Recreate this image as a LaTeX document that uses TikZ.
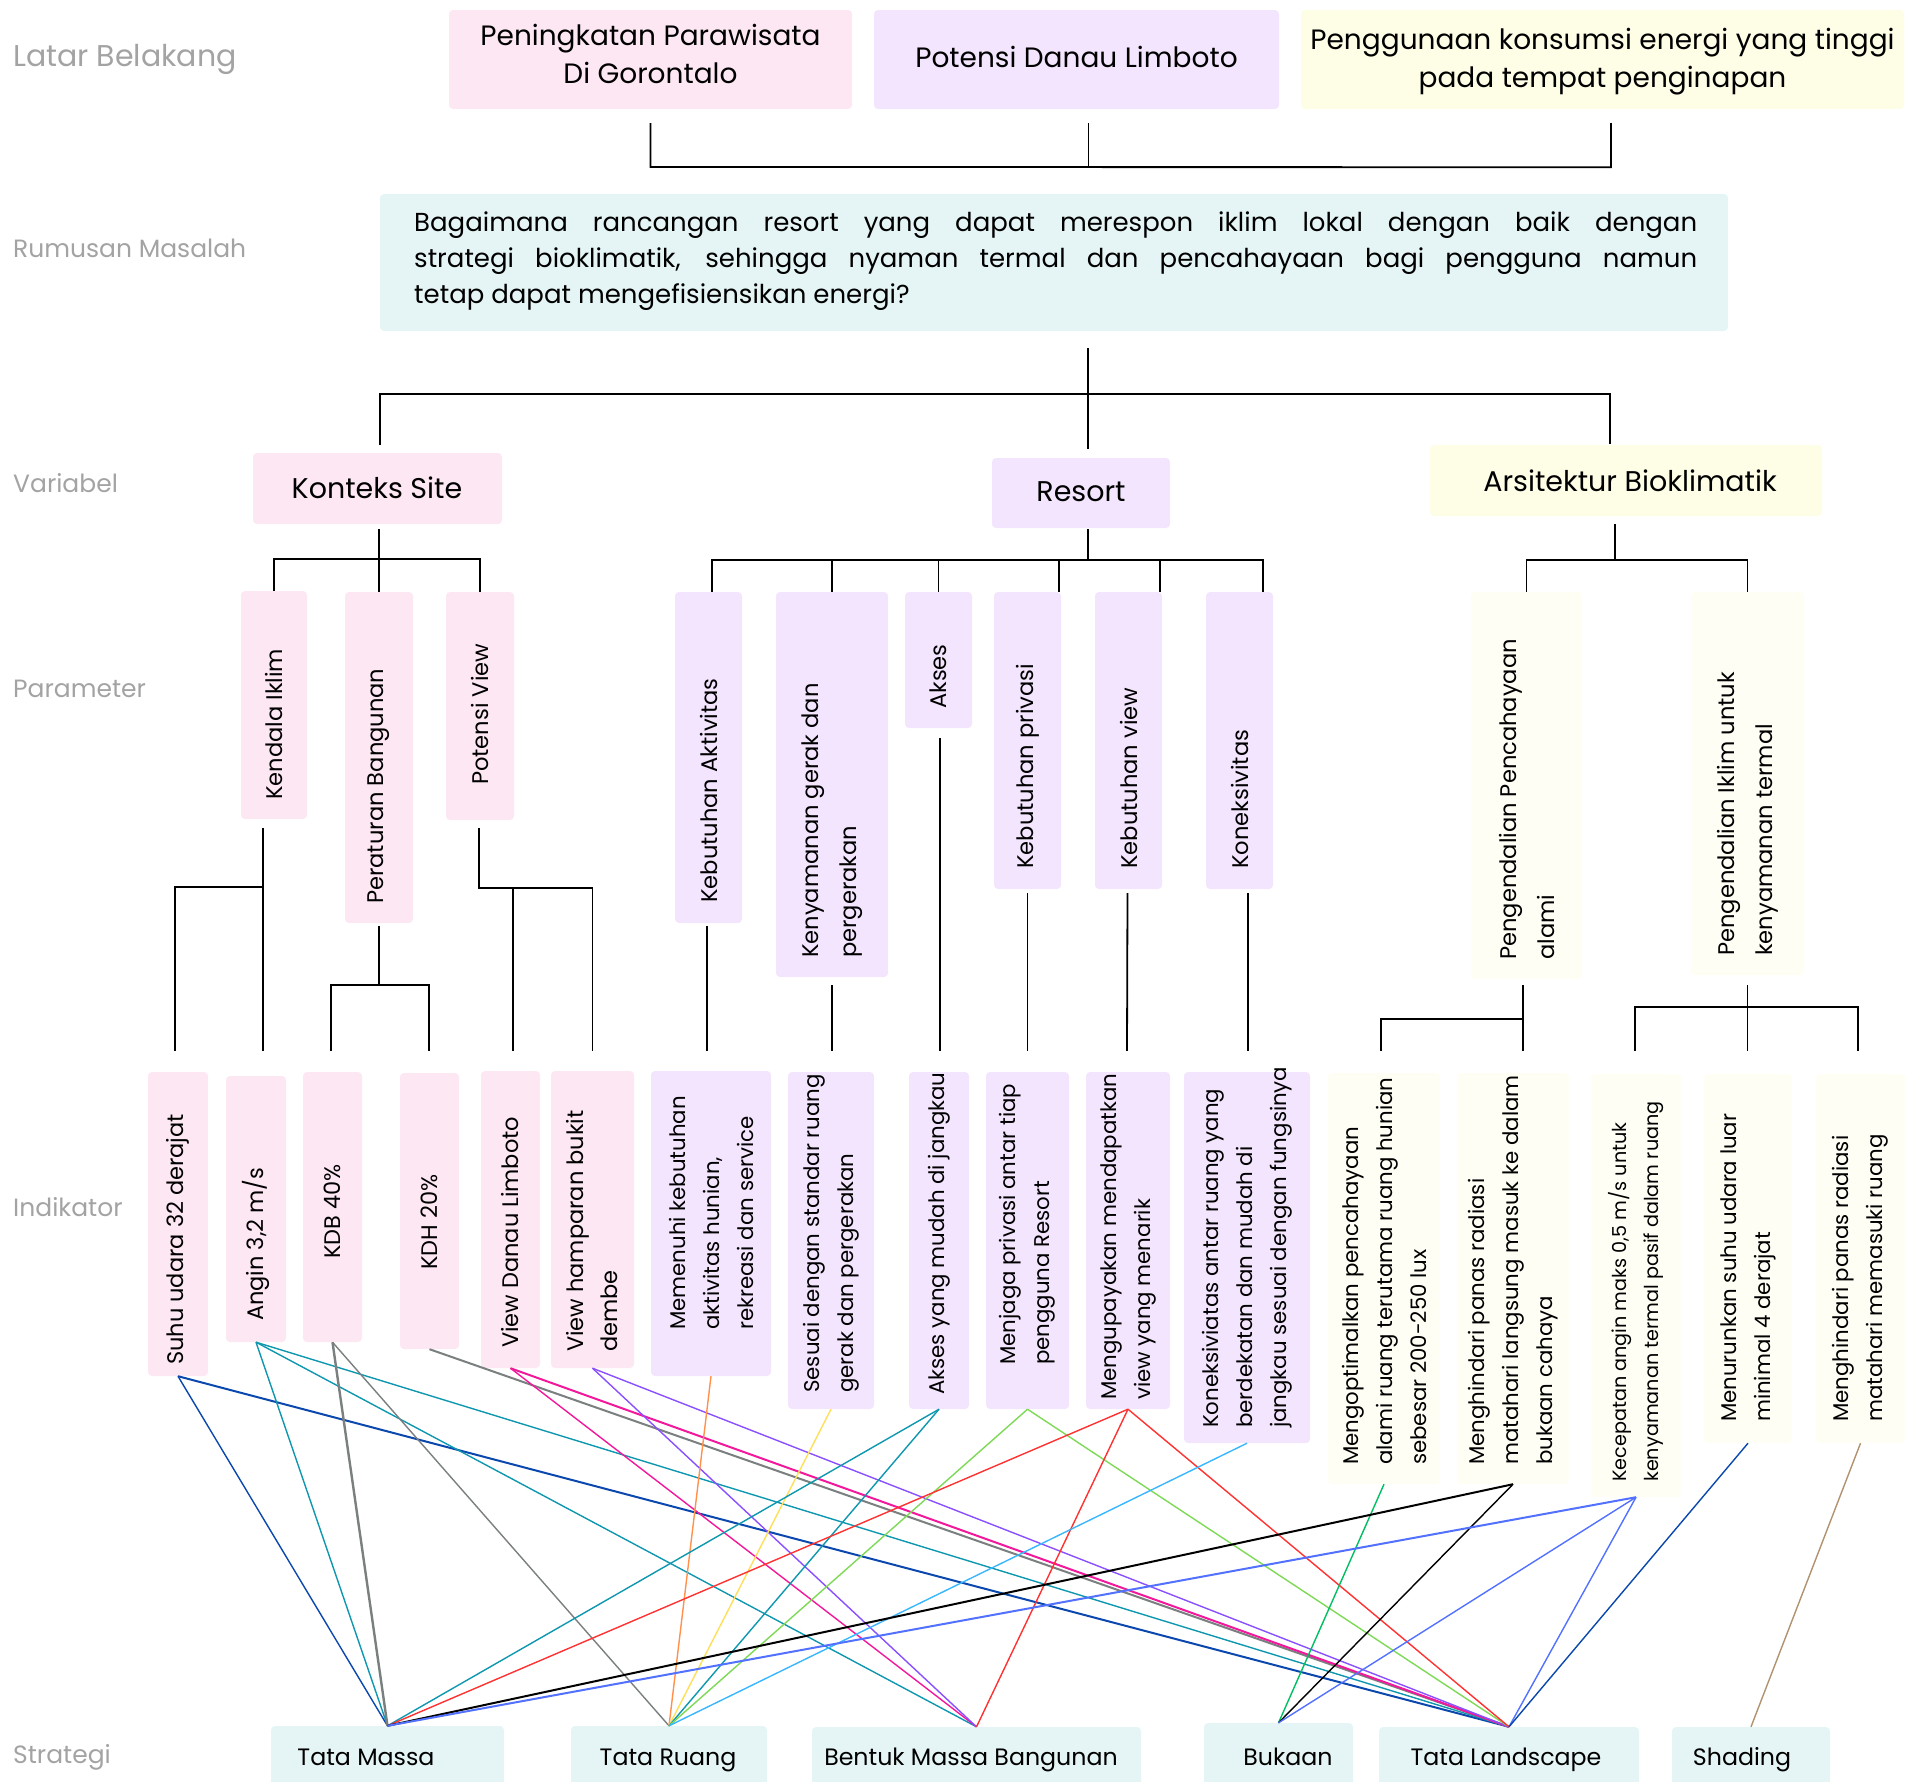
\documentclass[tikz,border=0pt]{standalone}
\usepackage{fontspec}
\setmainfont{Poppins}
\usetikzlibrary{fit,calc}
\definecolor{cpink}{HTML}{FDE7F3}
\definecolor{clav}{HTML}{F3E5FD}
\definecolor{cyel}{HTML}{FEFDE6}
\definecolor{ccream}{HTML}{FEFEF4}
\definecolor{ccyan}{HTML}{E5F5F5}
\definecolor{cgray}{HTML}{A3A3A3}
\definecolor{kdblue}{HTML}{0A48AD}
\definecolor{kteal}{HTML}{0E97AE}
\definecolor{kgray}{HTML}{7A7F7F}
\definecolor{kmag}{HTML}{F2189C}
\definecolor{kviol}{HTML}{8A50FF}
\definecolor{korange}{HTML}{FF914D}
\definecolor{kyellow}{HTML}{FFDE59}
\definecolor{kgreen}{HTML}{7ED957}
\definecolor{kred}{HTML}{FF3131}
\definecolor{klblue}{HTML}{38B6FF}
\definecolor{kgreen2}{HTML}{00BF63}
\definecolor{kblue}{HTML}{5271FF}
\definecolor{ktan}{HTML}{B0926F}
\tikzset{
  tree/.style={line width=1.8pt, black},
  bx/.style={rounded corners=4pt, inner sep=0pt, draw=none},
  pinkbox/.style={bx, fill=cpink},
  lavbox/.style={bx, fill=clav},
  yelbox/.style={bx, fill=cyel},
  creambox/.style={bx, fill=ccream},
  cyanbox/.style={bx, fill=ccyan},
  lbl/.style={anchor=base west, inner sep=0pt, text=cgray, font=\fontsize{25}{30}\selectfont},
  hd/.style={inner sep=0pt, align=center, font=\fontsize{28}{38}\selectfont},
  vh/.style={inner sep=0pt, align=center, font=\fontsize{28.5}{32}\selectfont},
  pt/.style={rotate=90, anchor=west, inner sep=0pt, align=left, font=\fontsize{22.6}{38}\selectfont},
  it/.style={rotate=90, anchor=west, inner sep=0pt, align=left, font=\fontsize{21.3}{34}\selectfont},
  st/.style={anchor=base, inner sep=0pt, font=\fontsize{23.7}{28}\selectfont},
  cl/.style={line width=1.4pt},
}
\begin{document}
\begin{tikzpicture}[x=1pt,y=-1pt]
\useasboundingbox (0,0) rectangle (1917,1781);
\clip (0,0) rectangle (1917,1781);

% row labels
\node[lbl, font=\fontsize{30}{34}\selectfont] (lb1) at (13,66) {Latar Belakang};
\node[lbl] (lb2) at (13,257) {Rumusan Masalah};
\node[lbl] (lb3) at (13,492) {Variabel};
\node[lbl] (lb4) at (13,697) {Parameter};
\node[lbl] (lb5) at (13,1216) {Indikator};
\node[lbl] (lb6) at (13,1763) {Strategi};

% background boxes
\node[pinkbox, fit={(449,10)(852,109)}] (bg1) {};
\node[lavbox, fit={(874,10)(1279,109)}] (bg2) {};
\node[yelbox, fit={(1301,10)(1904,109)}] (bg3) {};
\node[hd] (bg1t) at (650.5,54) {Peningkatan Parawisata\\Di Gorontalo};
\node[hd] (bg2t) at (1076.5,57) {Potensi Danau Limboto};
\node[hd] (bg3t) at (1602.5,62) {Penggunaan konsumsi energi yang tinggi\\pada tempat penginapan};

% rumusan
\node[cyanbox, fit={(380,194)(1728,331)}] (rm) {};
\node[anchor=west, inner sep=0pt, align=left, font=\fontsize{26}{36}\selectfont] (rmt) at (414,261)
 {\makebox[1283pt][s]{Bagaimana rancangan resort yang dapat merespon iklim lokal dengan baik dengan}\\
  \makebox[1283pt][s]{strategi bioklimatik, sehingga nyaman termal dan pencahayaan bagi pengguna namun}\\
  tetap dapat mengefisiensikan energi?};

% variabel
\node[pinkbox, fit={(253,453)(502,524)}] (ks) {};
\node[lavbox, fit={(992,458)(1170,528)}] (rs) {};
\node[yelbox, fit={(1430,445)(1822,516)}] (ab) {};
\node[vh] (kst) at (377,488) {Konteks Site};
\node[vh] (rst) at (1081,492) {Resort};
\node[vh] (abt) at (1630,481) {Arsitektur Bioklimatik};

% parameter boxes
\node[pinkbox, fit={(241,591)(307,819)}] (p1) {};
\node[pinkbox, fit={(345,592)(413,923)}] (p2) {};
\node[pinkbox, fit={(446,592)(514,820)}] (p3) {};
\node[lavbox, fit={(675,592)(742,923)}] (p4) {};
\node[lavbox, fit={(776,592)(888,977)}] (p5) {};
\node[lavbox, fit={(905,592)(972,728)}] (p6) {};
\node[lavbox, fit={(994,592)(1061,889)}] (p7) {};
\node[lavbox, fit={(1095,592)(1162,889)}] (p8) {};
\node[lavbox, fit={(1206,592)(1273,889)}] (p9) {};
\node[creambox, fit={(1471,592)(1582,979)}] (p10) {};
\node[creambox, fit={(1691,592)(1804,975)}] (p11) {};
\node[pt] (p1t) at (p1.center |- 0,800) {Kendala Iklim};
\node[pt] (p2t) at (p2.center |- 0,904) {Peraturan Bangunan};
\node[pt] (p3t) at (p3.center |- 0,785) {Potensi View};
\node[pt] (p4t) at (p4.center |- 0,903) {Kebutuhan Aktivitas};
\node[pt] (p5t) at (p5.center |- 0,958) {Kenyamanan gerak dan\\pergerakan};
\node[pt] (p6t) at (p6.center |- 0,709) {Akses};
\node[pt] (p7t) at (p7.center |- 0,869) {Kebutuhan privasi};
\node[pt] (p8t) at (p8.center |- 0,869) {Kebutuhan view};
\node[pt] (p9t) at (p9.center |- 0,869) {Koneksivitas};
\node[pt] (p10t) at (p10.center |- 0,960) {Pengendalian Pencahayaan\\alami};
\node[pt] (p11t) at (p11.center |- 0,956) {Pengendalian Iklim untuk\\kenyamanan termal};

% indikator boxes
\node[pinkbox, fit={(148,1072)(208,1376)}] (i1) {};
\node[pinkbox, fit={(226,1076)(286,1342)}] (i2) {};
\node[pinkbox, fit={(303,1072)(362,1342)}] (i3) {};
\node[pinkbox, fit={(400,1073)(459,1349)}] (i4) {};
\node[pinkbox, fit={(481,1071)(540,1368)}] (i5) {};
\node[pinkbox, fit={(551,1071)(634,1368)}] (i6) {};
\node[lavbox, fit={(651,1071)(771,1376)}] (i7) {};
\node[lavbox, fit={(788,1072)(874,1409)}] (i8) {};
\node[lavbox, fit={(909,1072)(969,1409)}] (i9) {};
\node[lavbox, fit={(986,1072)(1069,1409)}] (i10) {};
\node[lavbox, fit={(1086,1072)(1170,1409)}] (i11) {};
\node[lavbox, fit={(1184,1072)(1310,1443)}] (i12) {};
\node[creambox, fit={(1328,1073)(1440,1484)}] (i13) {};
\node[creambox, fit={(1457,1073)(1569,1484)}] (i14) {};
\node[creambox, fit={(1591,1074)(1681,1497)}] (i15) {};
\node[creambox, fit={(1704,1074)(1792,1443)}] (i16) {};
\node[creambox, fit={(1816,1074)(1905,1443)}] (i17) {};
\node[it, font=\fontsize{22.5}{34}\selectfont] (i1t) at (i1.center |- 0,1365) {Suhu udara 32 derajat};
\node[it, font=\fontsize{22.5}{34}\selectfont] (i2t) at (i2.center |- 0,1321) {Angin 3,2 m/s};
\node[it, font=\fontsize{22.5}{34}\selectfont] (i3t) at (i3.center |- 0,1259) {KDB 40\%};
\node[it, font=\fontsize{22.5}{34}\selectfont] (i4t) at (i4.center |- 0,1270) {KDH 20\%};
\node[it, font=\fontsize{22.5}{34}\selectfont] (i5t) at (i5.center |- 0,1348) {View Danau Limboto};
\node[it, font=\fontsize{22.5}{34}\selectfont] (i6t) at (i6.center |- 0,1352) {View hamparan bukit\\dembe};
\node[it] (i7t) at (i7.center |- 0,1330) {Memenuhi kebutuhan\\aktivitas hunian,\\rekreasi dan service};
\node[it] (i8t) at (i8.center |- 0,1393) {Sesuai dengan standar ruang\\gerak dan pergerakan};
\node[it] (i9t) at (i9.center |- 0,1395) {Akses yang mudah di jangkau};
\node[it] (i10t) at (i10.center |- 0,1365) {Menjaga privasi antar tiap\\pengguna Resort};
\node[it] (i11t) at (i11.center |- 0,1400) {Mengupayakan mendapatkan\\view yang menarik};
\node[it] (i12t) at (i12.center |- 0,1428) {Koneksiviatas antar ruang yang\\berdekatan dan mudah di\\jangkau sesuai dengan fungsinya};
\node[it] (i13t) at (i13.center |- 0,1465) {Mengoptimalkan pencahayaan\\alami ruang terutama ruang hunian\\sebesar 200-250 lux};
\node[it] (i14t) at (i14.center |- 0,1465) {Menghindari panas radiasi\\matahari langsung masuk ke dalam\\bukaan cahaya};
\node[it, font=\fontsize{19.2}{32}\selectfont] (i15t) at (i15.center |- 0,1482) {Kecepatan angin maks 0,5 m/s untuk\\kenyamanan termal pasif dalam ruang};
\node[it] (i16t) at (i16.center |- 0,1422) {Menurunkan suhu udara luar\\minimal 4 derajat};
\node[it] (i17t) at (i17.center |- 0,1422) {Menghindari panas radiasi\\matahari memasuki ruang};

% strategi boxes
\node[cyanbox, fit={(271,1726)(504,1800)}] (s1) {};
\node[cyanbox, fit={(571,1726)(767,1800)}] (s2) {};
\node[cyanbox, fit={(812,1727)(1141,1800)}] (s3) {};
\node[cyanbox, fit={(1204,1723)(1353,1800)}] (s4) {};
\node[cyanbox, fit={(1379,1727)(1639,1800)}] (s5) {};
\node[cyanbox, fit={(1672,1727)(1830,1800)}] (s6) {};
\node[st] (s1t) at (366,1765) {Tata Massa};
\node[st] (s2t) at (668,1765) {Tata Ruang};
\node[st] (s3t) at (971,1765) {Bentuk Massa Bangunan};
\node[st] (s4t) at (1288,1765) {Bukaan};
\node[st] (s5t) at (1506,1765) {Tata Landscape};
\node[st] (s6t) at (1742,1765) {Shading};

% tree: latar belakang -> rumusan
\draw[tree] (bg1.south |- 0,123) -- (bg1.south |- 0,167) -- ($(bg3.south)+(8.5,58)$) -- ($(bg3.south)+(8.5,14)$);
\draw[tree] ($(bg2.south)+(12,14)$) -- ($(bg2.south)+(12,58)$);

% rumusan -> variabel
\draw[tree] ($(rm.south)+(34,17)$) -- ($(rm.south)+(34,63)$);
\draw[tree] ($(ks.north)+(2.5,-8)$) |- ($(ab.north)+(-16,-51)$) -- ($(ab.north)+(-16,-1)$);
\draw[tree] ($(rm.south)+(34,63)$) -- ($(rs.north)+(7,-9)$);

% variabel -> parameter
\draw[tree] (p2.north |- 0,529) -- (p2.north);
\draw[tree] (p1.north) |- (p3.north |- 0,559) -- (p3.north);
\draw[tree] ($(rs.south)+(7,1)$) -- ($(rs.south)+(7,32)$);
\draw[tree] ($(p4.north)+(3.5,0)$) |- ($(p9.north)+(23.5,-32)$) -- ($(p9.north)+(23.5,0)$);
\draw[tree] (p5.north) -- (p5.north |- 0,560);
\draw[tree] (p6.north) -- (p6.north |- 0,560);
\draw[tree] ($(p7.north)+(31.5,0)$) -- ($(p7.north)+(31.5,-32)$);
\draw[tree] ($(p8.north)+(31.5,0)$) -- ($(p8.north)+(31.5,-32)$);
\draw[tree] ($(ab.south)+(-11,8)$) -- ($(ab.south)+(-11,44)$);
\draw[tree] (p10.north) |- (p11.north |- 0,560) -- (p11.north);

% parameter -> indikator
\draw[tree] ($(p1.south)+(-11,9)$) -- ($(i2.north)+(7,-25)$);
\draw[tree] ($(p1.south)+(-11,68)$) -| ($(i1.north)+(-3,-21)$);
\draw[tree] ($(p2.south)+(0,3)$) -- ($(p2.south)+(0,62)$);
\draw[tree] ($(i3.north)+(-1.5,-21)$) |- ($(i4.north)+(-0.5,-88)$) -- ($(i4.north)+(-0.5,-22)$);
\draw[tree] ($(p3.south)+(-1,8)$) |- ($(i6.north)+(0,-183)$) -- ($(i6.north)+(0,-20)$);
\draw[tree] ($(i5.north)+(2.5,-20)$) -- ($(i5.north)+(2.5,-183)$);
\draw[tree] ($(p4.south)+(-1.5,3)$) -- ($(i7.north)+(-4,-20)$);
\draw[tree] ($(p5.south)+(0,8)$) -- ($(i8.north)+(1,-21)$);
\draw[tree] ($(p6.south)+(1.5,10)$) -- ($(i9.north)+(1,-21)$);
\draw[tree] ($(p7.south)+(0,4)$) -- ($(i10.north)+(0,-21)$);
\draw[tree] ($(p8.south)+(-1,4)$) -- ($(i11.north)+(-1,-21)$);
\draw[tree] ($(p9.south)+(8.5,4)$) -- ($(i12.north)+(1,-21)$);
\draw[tree] ($(p10.south)+(-3.5,6)$) -- ($(i14.north)+(10,-22)$);
\draw[tree] ($(i13.north)+(-3,-22)$) |- ($(p10.south)+(-3.5,40)$);
\draw[tree] ($(p11.south)+(0,10)$) -- ($(i16.north)+(-0.5,-23)$);
\draw[tree] ($(i15.north)+(-1,-23)$) |- ($(i17.north)+(-2.5,-67)$) -- ($(i17.north)+(-2.5,-23)$);

% indikator -> strategi
\draw[cl, kdblue] (i1.south) -- (s1.north);
\draw[cl, kdblue, line width=2pt] (i1.south) -- (s5.north);
\draw[cl, kteal] (i2.south) -- (s1.north);
\draw[cl, kteal] (i2.south) -- (s3.north);
\draw[cl, kteal] (i2.south) -- (s5.north);
\draw[cl, kgray, line width=2.4pt] (i3.south) -- (s1.north);
\draw[cl, kgray] (i3.south) -- (s2.north);
\draw[cl, kgray, line width=2pt] (i4.south) -- (s5.north);
\draw[cl, kmag] (i5.south) -- (s3.north);
\draw[cl, kmag, line width=2pt] (i5.south) -- (s5.north);
\draw[cl, kviol] (i6.south) -- (s3.north);
\draw[cl, kviol] (i6.south) -- (s5.north);
\draw[cl, korange] (i7.south) -- (s2.north);
\draw[cl, kyellow] (i8.south) -- (s2.north);
\draw[cl, kteal] (i9.south) -- (s1.north);
\draw[cl, kteal] (i9.south) -- (s2.north);
\draw[cl, kgreen] (i10.south) -- (s2.north);
\draw[cl, kgreen] (i10.south) -- (s5.north);
\draw[cl, kred] (i11.south) -- (s1.north);
\draw[cl, kred] (i11.south) -- (s3.north);
\draw[cl, kred] (i11.south) -- (s5.north);
\draw[cl, klblue] (i12.south) -- (s2.north);
\draw[cl, kgreen2] (i13.south) -- (s4.north);
\draw[cl, black, line width=2pt] (i14.south) -- (s1.north);
\draw[cl, black] (i14.south) -- (s4.north);
\draw[cl, kblue, line width=2pt] (i15.south) -- (s1.north);
\draw[cl, kblue] (i15.south) -- (s4.north);
\draw[cl, kblue] (i15.south) -- (s5.north);
\draw[cl, kdblue] (i16.south) -- (s5.north);
\draw[cl, ktan] (i17.south) -- (s6.north);
\end{tikzpicture}
\end{document}
